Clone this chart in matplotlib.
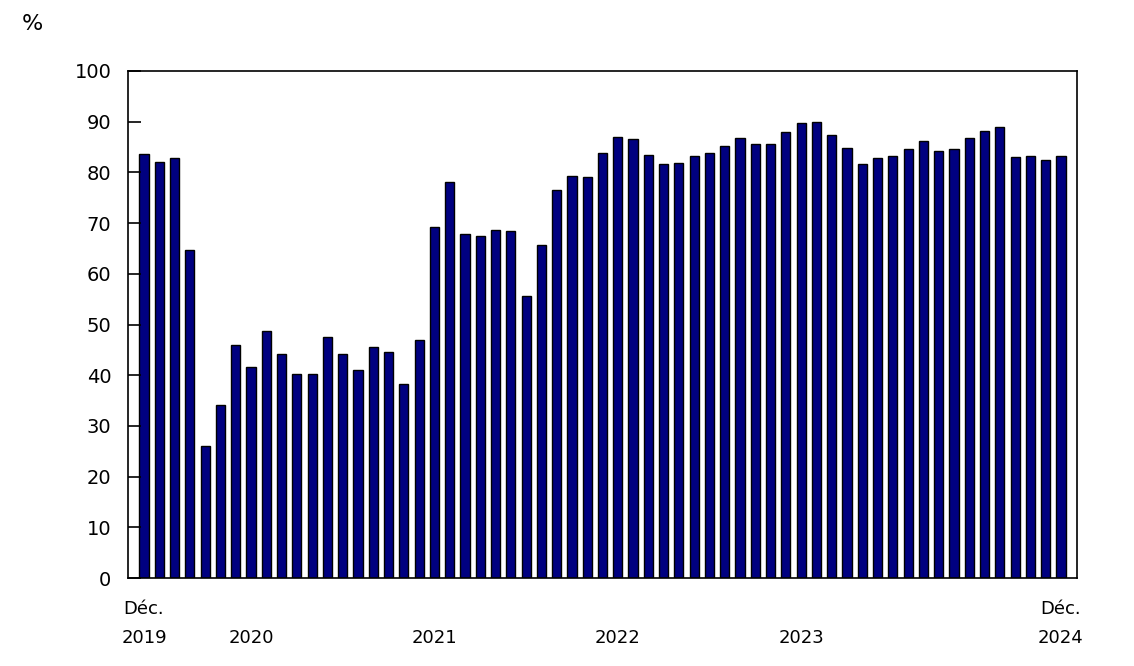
import matplotlib
matplotlib.use("Agg")
import matplotlib.pyplot as plt

# taux mensuel, déc. 2019 à déc. 2024
values = [83.7, 82.1, 82.8, 64.7, 26.0, 34.2, 46.0, 41.6, 48.8, 44.1,
          40.2, 40.2, 47.5, 44.1, 41.1, 45.6, 44.5, 38.2, 47.0, 69.2,
          78.2, 67.9, 67.5, 68.6, 68.5, 55.7, 65.6, 76.6, 79.2, 79.0,
          83.8, 87.0, 86.6, 83.5, 81.6, 81.9, 83.3, 83.8, 85.2, 86.8,
          85.7, 85.6, 87.9, 89.7, 89.9, 87.3, 84.9, 81.6, 82.9, 83.2,
          84.7, 86.2, 84.2, 84.7, 86.7, 88.1, 89.0, 83.0, 83.2, 82.4,
          83.2]
tick_pos = [0, 7, 19, 31, 43, 60]
tick_labels = ["Déc.\n2019", "\n2020", "\n2021", "\n2022", "\n2023", "Déc.\n2024"]
y_ticks = list(range(0, 101, 10))

fig = plt.figure(figsize=(11.34, 6.66), dpi=100)
ax = fig.add_axes([128 / 1134, 1 - 578 / 666, 949 / 1134, 507 / 666])

x = range(len(values))
ax.bar(x, values, width=0.6, color="#000080", edgecolor="black", linewidth=1.0)

ax.set_xlim(-1.05, len(values) - 1 + 1.05)
ax.set_ylim(0, 100)
ax.set_yticks(y_ticks)
ax.tick_params(axis="y", direction="in", length=9, width=1.2, labelsize=14, pad=12)
ax.set_xticks(tick_pos)
ax.set_xticklabels(tick_labels, fontsize=13, linespacing=1.75)
ax.tick_params(axis="x", length=0, pad=16)
for s in ax.spines.values():
    s.set_linewidth(1.2)

fig.text(22 / 1134, 1 - 24 / 666, "%", fontsize=16, va="center", ha="left")

fig.savefig("out.png", dpi=100)
